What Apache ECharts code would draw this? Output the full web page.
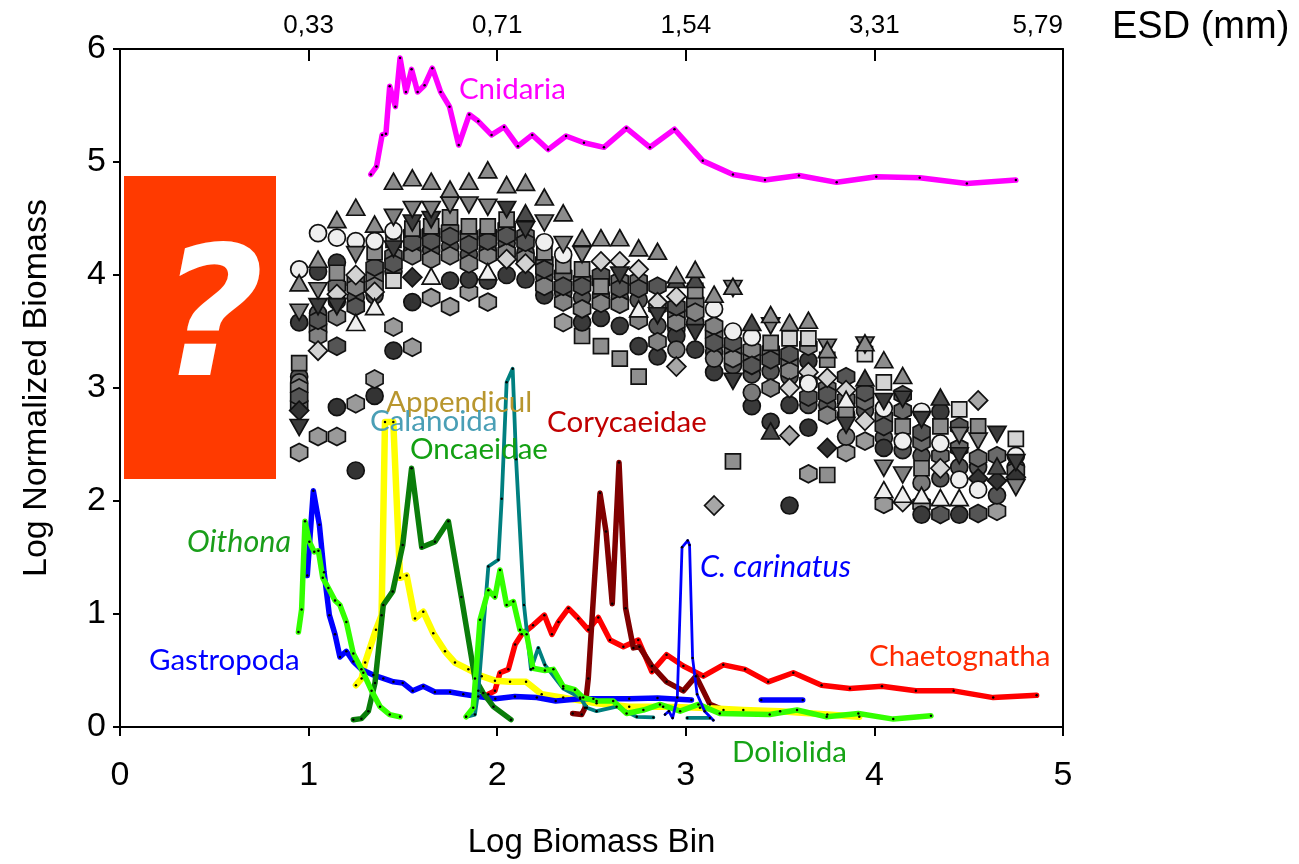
<!DOCTYPE html>
<html>
<head>
<meta charset="utf-8">
<script src="https://cdn.jsdelivr.net/npm/echarts@6/dist/echarts.min.js"></script>
<style>
  html, body { margin: 0; padding: 0; background: #fff; }
  #chart { width: 1299px; height: 864px; }
</style>
</head>
<body>
<div id="chart"></div>
<script>
// ---- size-bin centres (log biomass) shared by all station spectra ----
const binX = [0.95,1.05,1.15,1.25,1.35,1.45,1.55,1.65,1.75,1.85,1.95,2.05,2.15,2.25,2.35,2.45,2.55,2.65,2.75,2.85,
              2.95,3.05,3.15,3.25,3.35,3.45,3.55,3.65,3.75,3.85,3.95,4.05,4.15,4.25,4.35,4.45,4.55,4.65,4.75];

// ---- top axis: equivalent spherical diameter at each log bin ----
const esdTicks = [1, 2, 3, 4, 5];
const esdLabels = ['0,33', '0,71', '1,54', '3,31', '5,79'];

// ---- station spectra (one value per bin, null = no data) ----
const triUp   = [3.93,4.14,4.49,4.60,4.45,4.83,4.86,4.83,4.76,4.83,4.93,4.80,4.82,4.69,4.55,4.33,4.33,4.33,4.24,4.21,
                 4.00,4.05,3.83,3.90,null,3.65,3.58,3.60,3.34,null,3.40,3.25,3.11,null,null,null,null,null,null];
const triDark = [null,null,null,null,null,null,null,null,null,null,null,null,4.55,null,null,null,null,null,null,null,
                 3.96,3.96,null,null,3.58,2.62,null,null,null,null,3.09,null,null,null,2.92,null,null,2.31,null];
const triLight= [null,null,null,3.58,3.72,null,null,3.99,null,null,4.03,null,null,null,null,null,null,null,3.70,null,
                 null,null,null,null,null,null,null,null,null,2.90,null,2.10,2.06,2.05,2.03,2.03,null,null,null];
const invGray = [3.67,3.86,null,4.18,null,4.51,4.58,4.58,4.62,4.62,4.60,null,null,4.46,4.27,4.18,null,null,null,null,
                 null,null,null,3.88,null,3.55,null,null,3.36,null,3.38,2.29,2.23,null,null,2.58,2.53,null,2.12];
const invDark = [2.65,3.72,3.72,null,null,4.23,4.46,4.49,null,null,null,4.58,4.40,null,null,null,null,4.00,null,3.64,
                 null,3.49,null,3.06,null,null,null,null,null,2.67,null,2.88,2.90,2.72,null,2.40,null,2.59,2.34];
const circLight=[4.05,4.37,4.33,4.30,4.30,4.39,null,null,null,null,null,null,null,4.29,4.18,null,null,null,null,null,
                 null,null,3.70,3.50,3.45,null,null,3.04,null,null,null,2.82,2.53,2.79,2.51,2.19,2.10,null,2.40];
const circGray= [3.05,null,null,null,null,null,null,null,null,null,null,null,null,null,null,null,null,null,null,null,
                 3.34,null,3.26,null,2.96,null,null,null,null,2.57,null,null,null,2.16,null,null,null,null,null];
const circDark= [3.58,4.03,4.11,null,null,null,null,null,3.95,3.96,3.95,4.00,3.96,3.82,null,3.58,3.62,3.55,3.37,3.28,
                 3.46,3.34,3.14,null,2.84,2.70,2.85,3.24,null,null,null,2.47,null,1.88,2.79,1.88,null,null,null];
const sqGray  = [3.22,null,4.02,null,4.20,4.31,4.41,4.43,4.51,4.43,4.43,4.49,null,4.20,4.08,4.05,3.90,null,null,null,
                 null,3.86,null,null,null,3.40,null,null,3.25,2.79,null,null,2.66,2.29,2.66,null,2.66,null,null];
const sqLight = [null,null,null,null,null,3.95,null,null,null,null,null,null,null,null,null,null,null,null,null,null,
                 null,null,null,null,null,null,3.44,3.44,null,null,3.30,3.05,null,null,null,2.81,null,null,2.55];
const diaLight= [null,3.33,3.83,4.00,3.85,null,null,null,null,null,null,4.14,4.10,null,null,null,4.12,4.12,4.05,3.76,
                 3.81,null,null,null,null,null,3.00,3.14,3.09,2.98,2.71,null,1.99,null,2.29,null,null,null,null];
const diaGray = [null,null,null,null,null,null,null,null,null,null,null,null,null,null,null,null,null,null,null,null,
                 3.19,null,1.96,null,null,null,2.58,null,null,null,null,null,null,null,null,null,2.89,null,null];
const diaDark = [2.80,null,null,null,null,null,3.98,null,null,null,null,null,null,null,null,null,null,null,null,null,
                 null,null,null,null,null,null,null,null,2.47,null,null,null,null,null,null,null,2.20,2.18,2.21];
const hexGray = [3.00,3.46,3.63,3.89,3.90,null,4.17,4.14,4.17,4.10,4.17,4.20,4.15,3.90,3.76,3.70,3.75,3.74,3.60,3.41,
                 3.58,3.67,3.55,3.26,3.34,3.00,3.15,3.37,2.76,null,null,null,null,null,null,null,null,null,null];
const hexDark = [2.92,3.60,3.37,3.72,4.07,4.10,4.29,4.30,4.34,4.27,4.30,4.35,4.29,4.05,3.90,3.90,4.00,3.88,3.88,3.90,
                 3.72,null,3.40,3.40,3.20,3.25,3.30,2.92,2.94,3.10,2.96,2.66,2.94,2.61,1.88,2.66,1.89,null,null];
const hexMid  = [2.85,3.53,3.90,3.95,3.98,4.17,4.36,4.37,4.40,4.35,4.36,4.42,4.35,4.12,4.00,3.95,3.95,3.95,3.95,3.72,
                 3.65,3.76,3.48,3.34,3.27,3.33,3.22,3.05,3.00,2.90,2.88,2.74,2.80,2.52,2.40,2.47,2.38,2.40,2.27];
const circMid = [3.10,3.66,3.77,3.80,3.82,4.03,4.22,4.22,4.25,4.18,4.22,4.28,4.20,3.98,3.84,3.80,3.82,3.80,3.78,3.55,
                 3.52,3.58,3.32,3.20,3.12,3.15,3.10,2.85,2.85,2.76,2.80,2.56,2.45,2.40,2.20,2.30,2.30,2.05,2.30];
const hexLow  = [2.43,2.57,2.57,2.86,3.08,3.54,3.36,3.80,3.72,3.85,3.76,null,null,null,3.58,null,null,null,null,null,
                 null,null,null,null,null,null,null,2.24,null,2.43,2.53,1.97,null,1.97,null,null,null,1.91,null];
const circLow = [null,null,2.83,2.27,2.93,3.33,3.76,null,null,null,null,null,null,null,null,null,null,null,null,null,
                 null,null,null,null,null,null,1.96,2.65,null,null,null,null,null,null,null,null,null,null,null];
const sqLow   = [null,null,null,null,null,null,null,null,null,null,null,null,null,null,null,3.46,3.37,3.26,3.10,null,
                 null,null,null,2.35,null,null,null,null,2.23,null,null,null,null,null,null,null,null,null,null];

// ---- taxon spectra [log biomass bin, log normalized biomass] ----
const cnidaria = [[1.33,4.89],[1.36,4.96],[1.39,5.24],[1.41,5.25],[1.43,5.67],[1.46,5.49],[1.485,5.92],[1.516,5.62],
  [1.546,5.82],[1.578,5.62],[1.615,5.68],[1.656,5.83],[1.70,5.62],[1.747,5.49],[1.796,5.15],[1.852,5.42],[1.90,5.36],
  [1.97,5.24],[2.036,5.31],[2.11,5.14],[2.186,5.24],[2.27,5.11],[2.365,5.23],[2.46,5.17],[2.566,5.13],[2.685,5.30],
  [2.81,5.13],[2.94,5.29],[3.09,5.01],[3.25,4.89],[3.42,4.84],[3.60,4.88],[3.80,4.82],[4.01,4.87],[4.24,4.86],
  [4.49,4.81],[4.75,4.84]];
const gastropoda = [[0.993,1.34],[1.025,2.09],[1.057,1.79],[1.082,1.37],[1.11,0.99],[1.14,0.82],[1.166,0.62],[1.20,0.67],
  [1.237,0.58],[1.28,0.51],[1.343,0.46],[1.396,0.43],[1.45,0.40],[1.499,0.39],[1.552,0.32],[1.608,0.36],[1.67,0.31],
  [1.75,0.31],[1.82,0.29],[1.90,0.27],[1.99,0.25],[2.094,0.27],[2.21,0.26],[2.31,0.23],[2.44,0.25],[2.51,0.25],
  [2.70,0.25],[2.85,0.256],[3.03,0.24]];
const gastropodaLarge = [[3.40,0.24],[3.62,0.24]];
const cCarinatus = [[2.89,0.11],[2.91,0.14],[2.93,0.08],[2.955,0.26],[2.98,1.59],[3.01,1.65],[3.02,1.61],[3.036,0.61],
  [3.06,0.29],[3.10,0.14],[3.146,0.06]];
const calanoida = [[1.835,0.09],[1.882,0.11],[1.90,0.32],[1.953,1.42],[2.006,1.48],[2.024,2.02],[2.05,3.05],[2.082,3.17],
  [2.10,2.37],[2.142,1.08],[2.179,0.51],[2.218,0.70],[2.253,0.55],[2.35,0.34],[2.44,0.26],[2.475,0.17],[2.527,0.14],
  [2.633,0.18],[2.74,0.09],[2.828,0.085]];
const calanoidaLarge = [[3.008,0.08],[3.128,0.08]];
const appendicularia = [[1.251,0.37],[1.281,0.43],[1.30,0.57],[1.325,0.70],[1.357,0.86],[1.387,0.99],[1.405,2.70],
  [1.449,2.70],[1.485,1.32],[1.52,1.34],[1.564,0.96],[1.608,1.02],[1.661,0.83],[1.723,0.67],[1.776,0.57],[1.847,0.51],
  [1.918,0.45],[1.988,0.41],[2.068,0.40],[2.153,0.40],[2.236,0.29],[2.35,0.26],[2.527,0.21],[2.70,0.18],[2.88,0.18],
  [3.075,0.17],[3.305,0.15],[3.50,0.14],[3.75,0.11],[3.92,0.09]];
const oithona = [[0.946,0.84],[0.963,1.04],[0.981,1.82],[1.004,1.64],[1.03,1.55],[1.052,1.56],[1.075,1.32],[1.105,1.23],
  [1.14,1.12],[1.166,1.08],[1.20,0.93],[1.237,0.65],[1.29,0.48],[1.334,0.32],[1.379,0.18],[1.43,0.11],[1.485,0.09]];
const oncaeidae = [[1.237,0.065],[1.28,0.074],[1.317,0.14],[1.352,0.39],[1.396,1.08],[1.446,1.20],[1.499,1.61],
  [1.546,2.29],[1.60,1.59],[1.67,1.64],[1.741,1.82],[1.81,1.15],[1.882,0.43],[1.926,0.30],[1.98,0.18],[2.073,0.065]];
const doliolida = [[1.835,0.09],[1.873,0.17],[1.909,0.95],[1.953,1.21],[1.988,1.15],[2.015,1.39],[2.05,1.08],[2.086,1.11],
  [2.121,0.86],[2.156,0.82],[2.19,0.52],[2.253,0.50],[2.298,0.51],[2.35,0.36],[2.412,0.33],[2.456,0.26],[2.527,0.23],
  [2.615,0.23],[2.686,0.12],[2.775,0.15],[2.863,0.20],[2.97,0.14],[3.067,0.20],[3.18,0.12],[3.445,0.11],[3.59,0.15],
  [3.747,0.09],[3.915,0.12],[4.10,0.07],[4.30,0.10]];
const corycaeidae = [[2.40,0.12],[2.448,0.11],[2.466,0.17],[2.483,0.43],[2.545,2.07],[2.577,1.73],[2.61,1.09],
  [2.646,2.34],[2.681,1.05],[2.722,0.70],[2.754,0.71],[2.82,0.54],[2.898,0.40],[2.987,0.32],[3.054,0.45],[3.128,0.20],
  [3.20,0.15]];
const chaetognatha = [[1.953,0.29],[1.988,0.32],[2.015,0.48],[2.059,0.51],[2.095,0.73],[2.13,0.82],[2.19,0.90],[2.25,0.99],
  [2.29,0.82],[2.325,0.93],[2.378,1.05],[2.43,0.96],[2.483,0.86],[2.536,0.97],[2.598,0.77],[2.669,0.71],[2.748,0.77],
  [2.82,0.49],[2.898,0.64],[2.987,0.54],[3.093,0.45],[3.199,0.55],[3.314,0.51],[3.437,0.40],[3.57,0.48],[3.72,0.37],
  [3.87,0.34],[4.04,0.36],[4.22,0.32],[4.42,0.32],[4.63,0.26],[4.86,0.28]];

// ---- marker shapes ----
const SYM_TRI = 'triangle';
const SYM_INV = 'path://M0,0 L10,0 L5,8.7 Z';
const SYM_HEX = 'path://M5,0 L9.33,2.5 L9.33,7.5 L5,10 L0.67,7.5 L0.67,2.5 Z';

const AXIS_FONT = '"Liberation Sans", Arial, sans-serif';
const NOTE_FONT = 'Lato, "Open Sans", sans-serif';

function stationSeries(values, symbol, size, fill) {
  const data = [];
  values.forEach((v, i) => { if (v !== null) data.push([binX[i], v]); });
  return {
    type: 'scatter', data, symbol, symbolSize: size, z: 2,
    itemStyle: { color: fill, borderColor: '#111', borderWidth: 1.7, opacity: 1 },
    emphasis: { disabled: true }
  };
}

function taxonSeries(data, color, width, z) {
  return {
    type: 'line', data, z: z || 3,
    symbol: 'circle', symbolSize: 2.5, showSymbol: true,
    itemStyle: { color: '#000' },
    lineStyle: { color, width, join: 'round', cap: 'round' },
    emphasis: { disabled: true }
  };
}

const series = [
  stationSeries(circLow,  'circle', 17, '#333333'),
  stationSeries(hexLow,   SYM_HEX, [17, 18], '#9a9a9a'),
  stationSeries(sqLow,    'rect', 15, '#8f8f8f'),
  stationSeries(circMid,  'circle', 17, '#555555'),
  stationSeries(hexMid,   SYM_HEX, [17, 18], '#6a6a6a'),
  stationSeries(circDark, 'circle', 17, '#3a3a3a'),
  stationSeries(circGray, 'circle', 17, '#7a7a7a'),
  stationSeries(hexGray,  SYM_HEX, [17, 18], '#828282'),
  stationSeries(hexDark,  SYM_HEX, [17, 18], '#555555'),
  stationSeries(sqGray,   'rect', 15, '#8c8c8c'),
  stationSeries(sqLight,  'rect', 15, '#d4d4d4'),
  stationSeries(diaLight, 'diamond', [19, 19], '#d2d2d2'),
  stationSeries(diaGray,  'diamond', [19, 19], '#a6a6a6'),
  stationSeries(diaDark,  'diamond', [19, 19], '#333333'),
  stationSeries(circLight,'circle', 17, '#efefef'),
  stationSeries(triLight, SYM_TRI, [18, 16], '#efefef'),
  stationSeries(invDark,  SYM_INV, [18, 16], '#3c3c3c'),
  stationSeries(invGray,  SYM_INV, [18, 16], '#808080'),
  stationSeries(triDark,  SYM_TRI, [18, 16], '#4a4a4a'),
  stationSeries(triUp,    SYM_TRI, [18, 16], '#8c8c8c'),

  taxonSeries(chaetognatha, '#ff0000', 5.5),
  taxonSeries(corycaeidae, '#800000', 5.5),
  taxonSeries(appendicularia, '#ffff00', 6.5),
  taxonSeries(gastropoda, '#0000ff', 5.5),
  taxonSeries(gastropodaLarge, '#0000ff', 5.5),
  taxonSeries(oncaeidae, '#0a7d0a', 5.5),
  taxonSeries(calanoida, '#008080', 3.8),
  taxonSeries(calanoidaLarge, '#008080', 3.8),
  taxonSeries(doliolida, '#33ff00', 5.5),
  taxonSeries(oithona, '#33ff00', 5.5),
  taxonSeries(cCarinatus, '#0000ff', 2.8),
  taxonSeries(cnidaria, '#ff00ff', 5.5)
];

// taxon name annotations: [text, left, centreY, colour, italic]
const notes = [
  ['Cnidaria', 459, 89, '#ff00ff', false],
  ['Calanoida', 370, 421, '#4a9fb6', false],
  ['Oncaeidae', 410, 449, '#13a013', false],
  ['Corycaeidae', 547, 422, '#c00000', false],
  ['Oithona', 187, 542, '#1a9e1a', true],
  ['C. carinatus', 700, 567, '#0000ff', true],
  ['Gastropoda', 149, 660, '#0000ff', false],
  ['Chaetognatha', 869, 656, '#ff2a00', false],
  ['Doliolida', 732, 752, '#16a316', false]
];

const graphic = [
  { type: 'rect', shape: { x: 124, y: 176, width: 152, height: 303 }, style: { fill: '#ff3a00' }, z: 10 },
  { type: 'text', x: 212, y: 328, z: 11,
    style: { text: '?', fill: '#ffffff', fontSize: 180, fontStyle: 'italic', fontWeight: 'bold',
             fontFamily: '"DejaVu Sans", sans-serif', align: 'center', verticalAlign: 'middle' } },
  { type: 'text', x: 1112, y: 28, z: 11,
    style: { text: 'ESD (mm)', fill: '#000', fontSize: 38, fontFamily: AXIS_FONT, align: 'left', verticalAlign: 'middle' } },
  { type: 'text', x: 386, y: 402, z: 11,
    style: { text: 'Appendicularia', fill: '#b8962e', fontSize: 29.5, fontFamily: NOTE_FONT, width: 148,
             overflow: 'truncate', ellipsis: '', align: 'left', verticalAlign: 'middle' } }
].concat(notes.map(n => ({
  type: 'text', x: n[1], y: n[2], z: 11,
  style: { text: n[0], fill: n[3], fontSize: n[4] ? 30.5 : 29.5, fontFamily: NOTE_FONT,
           fontStyle: n[4] ? 'italic' : 'normal', align: 'left', verticalAlign: 'middle' }
})));

const axisLine = { show: true, onZero: false, lineStyle: { color: '#000', width: 2 } };

const option = {
  animation: false,
  backgroundColor: '#ffffff',
  textStyle: { fontFamily: AXIS_FONT },
  grid: { left: 120, right: 236, top: 49, bottom: 135, containLabel: false },
  xAxis: [
    { type: 'value', position: 'bottom', min: 0, max: 5, interval: 1,
      axisLine, axisTick: { show: true, length: 9, lineStyle: { color: '#000', width: 2 } },
      axisLabel: { fontSize: 34, color: '#000', margin: 32, fontFamily: AXIS_FONT },
      splitLine: { show: false },
      name: 'Log Biomass Bin', nameLocation: 'middle', nameGap: 99,
      nameTextStyle: { fontSize: 33, color: '#000', fontFamily: AXIS_FONT } },
    { type: 'value', position: 'top', min: 0, max: 5, interval: 1,
      axisLine, axisTick: { show: true, inside: true, length: 12, lineStyle: { color: '#000', width: 2 } },
      axisLabel: { fontSize: 26, color: '#000', margin: 10, fontFamily: AXIS_FONT, alignMaxLabel: 'right',
                   formatter: v => { const i = esdTicks.indexOf(v); return i < 0 ? '' : esdLabels[i]; } },
      splitLine: { show: false } }
  ],
  yAxis: [
    { type: 'value', position: 'left', min: 0, max: 6, interval: 1,
      axisLine, axisTick: { show: true, length: 7, lineStyle: { color: '#000', width: 2 } },
      axisLabel: { fontSize: 34, color: '#000', margin: 14, fontFamily: AXIS_FONT },
      splitLine: { show: false },
      name: 'Log Normalized Biomass', nameLocation: 'middle', nameGap: 66, nameRotate: 90,
      nameTextStyle: { fontSize: 34, color: '#000', fontFamily: AXIS_FONT } },
    { type: 'value', position: 'right', min: 0, max: 6, interval: 1,
      axisLine, axisTick: { show: false }, axisLabel: { show: false }, splitLine: { show: false } }
  ],
  series,
  graphic
};

const chart = echarts.init(document.getElementById('chart'), null, { renderer: 'canvas' });
chart.setOption(option);
</script>
</body>
</html>
